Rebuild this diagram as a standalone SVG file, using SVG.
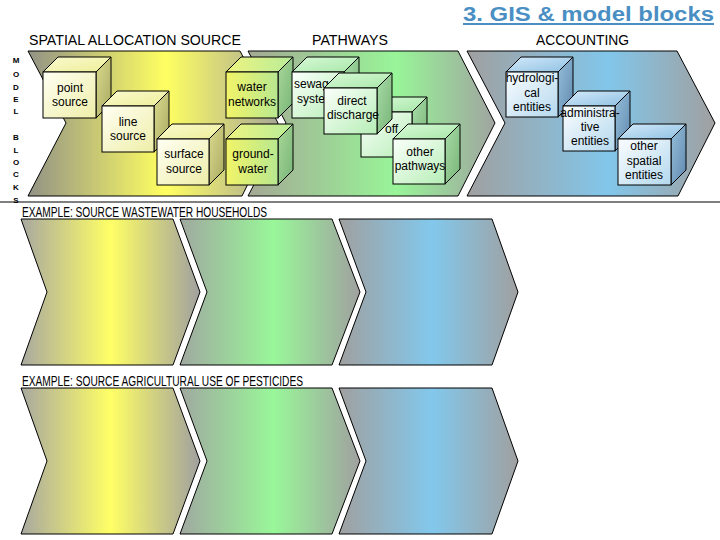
<svg xmlns="http://www.w3.org/2000/svg" width="720" height="540" viewBox="0 0 720 540">
<style>
.chev{stroke:#000;stroke-width:1}
.cube rect,.cube polygon{stroke:#000;stroke-width:1}
.lbl{font-family:"Liberation Sans",Arial,sans-serif;font-size:12px;fill:#000;text-anchor:middle}
.head{font-family:"Liberation Sans",Arial,sans-serif;font-size:14px;fill:#000}
.ex{font-family:"Liberation Sans",Arial,sans-serif;font-size:14px;fill:#000}
.side{font-family:"Liberation Sans",Arial,sans-serif;font-size:8px;font-weight:bold;fill:#000;text-anchor:middle}
</style>
<defs>
<linearGradient id="gY" x1="0" y1="0" x2="1" y2="0"><stop offset="0" stop-color="#929286"/><stop offset="0.55" stop-color="#ffff62"/><stop offset="1" stop-color="#a8a898"/></linearGradient>
<linearGradient id="gG" x1="0" y1="0" x2="1" y2="0"><stop offset="0" stop-color="#a4a894"/><stop offset="0.6" stop-color="#98f598"/><stop offset="1" stop-color="#a0a4a0"/></linearGradient>
<linearGradient id="gB" x1="0" y1="0" x2="1" y2="0"><stop offset="0" stop-color="#a0a0a0"/><stop offset="0.57" stop-color="#82c6ea"/><stop offset="1" stop-color="#a0a0a0"/></linearGradient>
<linearGradient id="gY2" x1="0" y1="0" x2="1" y2="0"><stop offset="0" stop-color="#a8a8a0"/><stop offset="0.5" stop-color="#ffff66"/><stop offset="1" stop-color="#a0a0a0"/></linearGradient>
<linearGradient id="gG2" x1="0" y1="0" x2="1" y2="0"><stop offset="0" stop-color="#a0a8a0"/><stop offset="0.52" stop-color="#99f799"/><stop offset="1" stop-color="#a0a0a0"/></linearGradient>
<linearGradient id="gB2" x1="0" y1="0" x2="1" y2="0"><stop offset="0" stop-color="#a0a0a0"/><stop offset="0.52" stop-color="#82c8ec"/><stop offset="1" stop-color="#a0a0a0"/></linearGradient>
<linearGradient id="fY" x1="0" y1="0" x2="1" y2="1"><stop offset="0" stop-color="#fffff4"/><stop offset="1" stop-color="#eeeea8"/></linearGradient>
<linearGradient id="tY" x1="0" y1="0" x2="1" y2="1"><stop offset="0" stop-color="#fafad0"/><stop offset="1" stop-color="#eeee98"/></linearGradient>
<linearGradient id="sY" x1="0" y1="0" x2="1" y2="1"><stop offset="0" stop-color="#dcdc90"/><stop offset="1" stop-color="#a8a860"/></linearGradient>
<linearGradient id="fW" x1="0" y1="0" x2="1" y2="0"><stop offset="0" stop-color="#f2f468"/><stop offset="1" stop-color="#b8e890"/></linearGradient>
<linearGradient id="tW" x1="0" y1="0" x2="1" y2="0"><stop offset="0" stop-color="#eef480"/><stop offset="1" stop-color="#b8ec98"/></linearGradient>
<linearGradient id="sW" x1="0" y1="0" x2="1" y2="1"><stop offset="0" stop-color="#a8d898"/><stop offset="1" stop-color="#78b478"/></linearGradient>
<linearGradient id="fP" x1="0" y1="0" x2="1" y2="1"><stop offset="0" stop-color="#fbfffb"/><stop offset="1" stop-color="#b6eeb6"/></linearGradient>
<linearGradient id="tP" x1="0" y1="0" x2="1" y2="1"><stop offset="0" stop-color="#d8fad8"/><stop offset="1" stop-color="#a8e6a8"/></linearGradient>
<linearGradient id="sP" x1="0" y1="0" x2="1" y2="1"><stop offset="0" stop-color="#a8dca8"/><stop offset="1" stop-color="#78b478"/></linearGradient>
<linearGradient id="fA" x1="0" y1="0" x2="1" y2="1"><stop offset="0" stop-color="#fafdff"/><stop offset="1" stop-color="#b4d8ee"/></linearGradient>
<linearGradient id="tA" x1="0" y1="0" x2="1" y2="1"><stop offset="0" stop-color="#d4eafa"/><stop offset="1" stop-color="#8ec0e2"/></linearGradient>
<linearGradient id="sA" x1="0" y1="0" x2="1" y2="1"><stop offset="0" stop-color="#98c0dc"/><stop offset="1" stop-color="#5e88ae"/></linearGradient>
</defs>
<rect width="720" height="540" fill="#fff"/>

<g id="title">
<text x="463" y="21" font-family="Liberation Sans,Arial,sans-serif" font-size="20" font-weight="bold" fill="#4a8fc4" textLength="251" lengthAdjust="spacingAndGlyphs">3. GIS &amp; model blocks</text>
<rect x="463" y="23" width="251" height="2" fill="#4a8fc4"/>
</g>

<g id="headings">
<text class="head" x="29" y="45" textLength="212" lengthAdjust="spacingAndGlyphs">SPATIAL ALLOCATION SOURCE</text>
<text class="head" x="312" y="45" textLength="76" lengthAdjust="spacingAndGlyphs">PATHWAYS</text>
<text class="head" x="536" y="45" textLength="93" lengthAdjust="spacingAndGlyphs">ACCOUNTING</text>
</g>

<g id="side-label">
<text class="side" x="16" y="63">M</text>
<text class="side" x="16" y="77">O</text>
<text class="side" x="16" y="90">D</text>
<text class="side" x="16" y="102">E</text>
<text class="side" x="16" y="114">L</text>
<text class="side" x="16" y="140">B</text>
<text class="side" x="16" y="153">L</text>
<text class="side" x="16" y="165">O</text>
<text class="side" x="16" y="177">C</text>
<text class="side" x="16" y="190">K</text>
<text class="side" x="16" y="203">S</text>
</g>

<g id="model-chevrons">
<polygon class="chev" fill="url(#gY)" points="28,51 240,51 278,123 242,196 28,196 66,123"/>
<polygon class="chev" fill="url(#gG)" points="248,51 458,51 495,123 458,196 248,196 286,123"/>
<polygon class="chev" fill="url(#gB)" points="467,51 677,51 715,123 678,196 467,196 505,123"/>
</g>

<line x1="0" y1="202" x2="720" y2="202" stroke="#000" stroke-width="1"/>

<g id="point-source" class="cube">
<polygon fill="url(#tY)" points="43,72 58,57 111,57 96,72"/>
<polygon fill="url(#sY)" points="96,72 111,57 111,103 96,118"/>
<rect fill="url(#fY)" x="43" y="72" width="53" height="46"/>
<text class="lbl" x="70" y="92">point</text><text class="lbl" x="70" y="106">source</text>
</g>
<g id="line-source" class="cube">
<polygon fill="url(#tY)" points="102,106 117,91 169,91 154,106"/>
<polygon fill="url(#sY)" points="154,106 169,91 169,137 154,152"/>
<rect fill="url(#fY)" x="102" y="106" width="52" height="46"/>
<text class="lbl" x="128" y="126">line</text><text class="lbl" x="128" y="140">source</text>
</g>
<g id="surface-source" class="cube">
<polygon fill="url(#tY)" points="157,139 172,124 224,124 209,139"/>
<polygon fill="url(#sY)" points="209,139 224,124 224,170 209,185"/>
<rect fill="url(#fY)" x="157" y="139" width="52" height="46"/>
<text class="lbl" x="184" y="158">surface</text><text class="lbl" x="184" y="173">source</text>
</g>
<g id="water-networks" class="cube">
<polygon fill="url(#tW)" points="226,72 241,57 293,57 278,72"/>
<polygon fill="url(#sW)" points="278,72 293,57 293,103 278,118"/>
<rect fill="url(#fW)" x="226" y="72" width="52" height="46"/>
<text class="lbl" x="252" y="91">water</text><text class="lbl" x="252" y="106">networks</text>
</g>
<g id="groundwater" class="cube">
<polygon fill="url(#tW)" points="226,139 241,124 293,124 278,139"/>
<polygon fill="url(#sW)" points="278,139 293,124 293,170 278,185"/>
<rect fill="url(#fW)" x="226" y="139" width="52" height="46"/>
<text class="lbl" x="253" y="158">ground-</text><text class="lbl" x="253" y="173">water</text>
</g>
<g id="sewage-system" class="cube">
<polygon fill="url(#tP)" points="292,72 307,57 359,57 344,72"/>
<polygon fill="url(#sP)" points="344,72 359,57 359,103 344,118"/>
<rect fill="url(#fP)" x="292" y="72" width="52" height="46"/>
<text class="lbl" x="294" y="88" style="text-anchor:start">sewag</text><text class="lbl" x="297" y="103" style="text-anchor:start">syste</text>
</g>
<g id="runoff" class="cube">
<polygon fill="url(#tP)" points="361,112 376,97 427,97 412,112"/>
<polygon fill="url(#sP)" points="412,112 427,97 427,142 412,157"/>
<rect fill="url(#fP)" x="361" y="112" width="51" height="45"/>
<text class="lbl" x="385" y="133" style="text-anchor:start">off</text>
</g>
<g id="direct-discharge" class="cube">
<polygon fill="url(#tP)" points="324,88 339,73 392,73 377,88"/>
<polygon fill="url(#sP)" points="377,88 392,73 392,119 377,134"/>
<rect fill="url(#fP)" x="324" y="88" width="53" height="46"/>
<text class="lbl" x="352" y="105">direct</text><text class="lbl" x="353" y="119">discharge</text>
</g>
<g id="other-pathways" class="cube">
<polygon fill="url(#tP)" points="393,139 408,124 460,124 445,139"/>
<polygon fill="url(#sP)" points="445,139 460,124 460,169 445,184"/>
<rect fill="url(#fP)" x="393" y="139" width="52" height="45"/>
<text class="lbl" x="420" y="156">other</text><text class="lbl" x="420" y="170">pathways</text>
</g>
<g id="hydrological-entities" class="cube">
<polygon fill="url(#tA)" points="506,72 521,57 573,57 558,72"/>
<polygon fill="url(#sA)" points="558,72 573,57 573,102 558,117"/>
<rect fill="url(#fA)" x="506" y="72" width="52" height="45"/>
<text class="lbl" x="532" y="82">hydrologi-</text><text class="lbl" x="532" y="97">cal</text><text class="lbl" x="532" y="111">entities</text>
</g>
<g id="administrative-entities" class="cube">
<polygon fill="url(#tA)" points="563,106 578,91 630,91 615,106"/>
<polygon fill="url(#sA)" points="615,106 630,91 630,136 615,151"/>
<rect fill="url(#fA)" x="563" y="106" width="52" height="45"/>
<text class="lbl" x="590" y="117">administra-</text><text class="lbl" x="590" y="131">tive</text><text class="lbl" x="590" y="145">entities</text>
</g>
<g id="other-spatial-entities" class="cube">
<polygon fill="url(#tA)" points="618,139 633,124 686,124 671,139"/>
<polygon fill="url(#sA)" points="671,139 686,124 686,170 671,185"/>
<rect fill="url(#fA)" x="618" y="139" width="53" height="46"/>
<text class="lbl" x="644" y="150">other</text><text class="lbl" x="644" y="165">spatial</text><text class="lbl" x="644" y="179">entities</text>
</g>

<g id="example-wastewater">
<text class="ex" x="22" y="217" textLength="245" lengthAdjust="spacingAndGlyphs">EXAMPLE: SOURCE WASTEWATER HOUSEHOLDS</text>
<polygon class="chev" fill="url(#gY2)" points="21,219 173,219 200,292 173,365 21,365 47,292"/>
<polygon class="chev" fill="url(#gG2)" points="180,219 332,219 360,292 332,365 180,365 207,292"/>
<polygon class="chev" fill="url(#gB2)" points="339,219 492,219 518,292 492,365 339,365 366,292"/>
</g>

<g id="example-pesticides">
<text class="ex" x="22" y="386" textLength="281" lengthAdjust="spacingAndGlyphs">EXAMPLE: SOURCE AGRICULTURAL USE OF PESTICIDES</text>
<polygon class="chev" fill="url(#gY2)" points="21,388 173,388 200,461 173,534 21,534 47,461"/>
<polygon class="chev" fill="url(#gG2)" points="180,388 332,388 360,461 332,534 180,534 207,461"/>
<polygon class="chev" fill="url(#gB2)" points="339,388 492,388 518,461 492,534 339,534 366,461"/>
</g>
</svg>
